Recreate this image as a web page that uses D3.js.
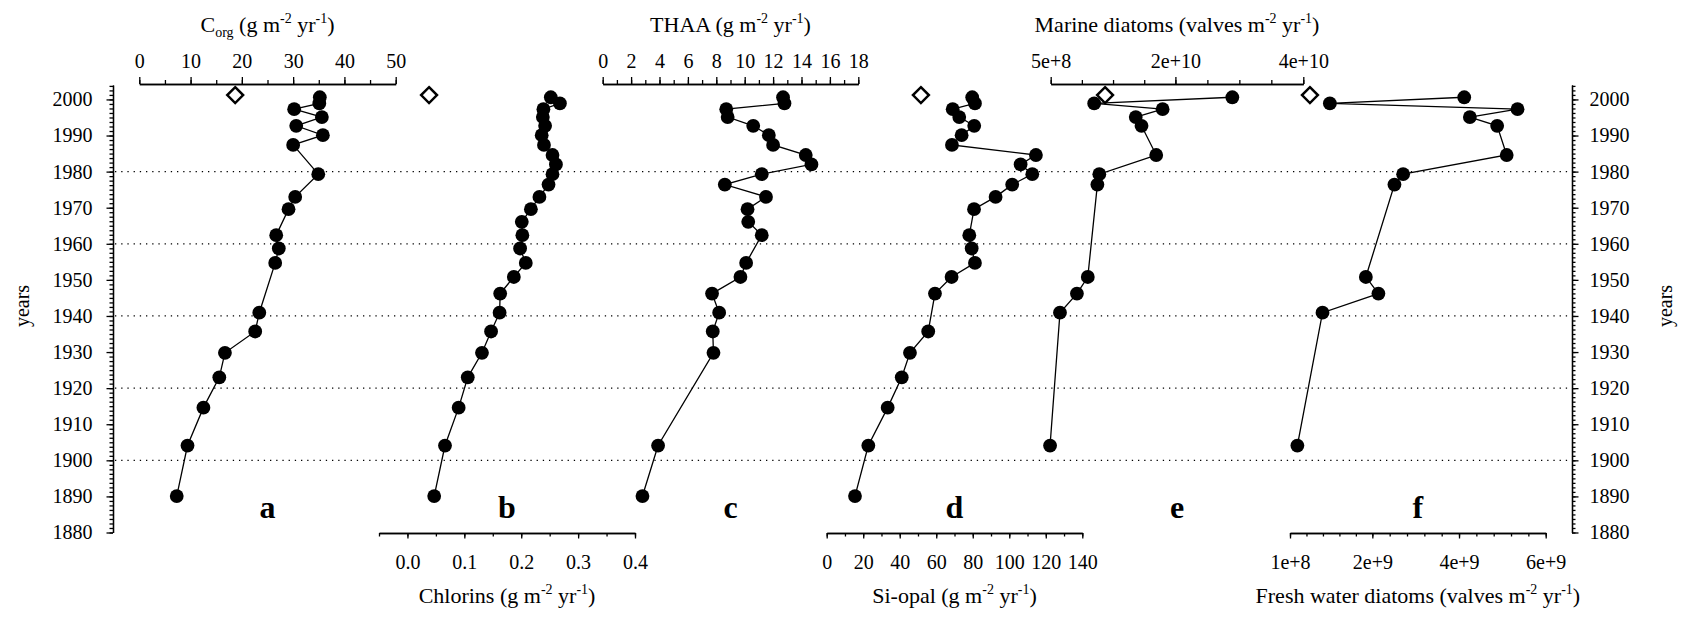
<!DOCTYPE html>
<html>
<head>
<meta charset="utf-8">
<script src="https://cdn.jsdelivr.net/npm/d3@7"></script>
<style>
  body { margin: 0; background: #fff; }
  .axis path, .axis line { stroke: #000; stroke-width: 1.3; }
</style>
</head>
<body>
<div id="chart"></div>
<script>
// sample years (shared by all cores, null = not measured)
const years = [2000.6, 1998.9, 1997.3, 1995.1, 1992.7, 1990.1, 1987.4, 1984.6, 1982.0, 1979.3,
  1976.4, 1973.0, 1969.6, 1966.1, 1962.4, 1958.7, 1954.7, 1950.8, 1946.2, 1940.9,
  1935.7, 1929.8, 1923.0, 1914.6, 1904.1, 1890.1];

const corg = [35.2, 35.1, 30.2, 35.6, 30.6, 35.8, 30.0, null, null, 34.9,
  null, 30.4, 29.1, null, 26.7, 27.2, 26.5, null, null, 23.4,
  22.6, 16.7, 15.6, 12.5, 9.4, 7.3];
const chlorins = [0.252, 0.268, 0.239, 0.238, 0.242, 0.236, 0.240, 0.255, 0.261, 0.255,
  0.248, 0.232, 0.217, 0.201, 0.202, 0.198, 0.208, 0.187, 0.163, 0.162,
  0.147, 0.131, 0.106, 0.090, 0.066, 0.047];
const thaa = [12.7, 12.8, 8.7, 8.8, 10.6, 11.7, 12.0, 14.3, 14.7, 11.2,
  8.6, 11.5, 10.2, 10.25, 11.2, null, 10.1, 9.7, 7.7, 8.2,
  7.75, 7.8, null, null, 3.9, 2.8];
const siOpal = [79.7, 81.2, 69.0, 72.6, 80.8, 73.9, 68.6, 114.6, 106.2, 112.6,
  101.6, 92.5, 80.7, null, 78.1, 79.4, 81.2, 68.4, 59.3, null,
  55.6, 45.6, 41.1, 33.4, 22.8, 15.5];
const marine = [2.89e10, 0.73e10, 1.80e10, 1.38e10, 1.47e10, null, null, 1.70e10, null, 0.81e10,
  0.78e10, null, null, null, null, null, null, 0.63e10, 0.46e10, 0.195e10,
  null, null, null, null, 0.04e10, null];
const fresh = [4.12e9, 1.02e9, 5.35e9, 4.25e9, 4.88e9, null, null, 5.10e9, null, 2.71e9,
  2.51e9, null, null, null, null, null, null, 1.85e9, 2.14e9, 0.85e9,
  null, null, null, null, 0.27e9, null];

// open diamonds (recent surface value)
const diamondYear = 2001.2;
const diamondValues = [18.7, 0.038, null, 51.6, 0.90e10, 0.56e9];

// axis ticks
const corgTicks = [0, 10, 20, 30, 40, 50];
const chlTicks = [0, 0.1, 0.2, 0.3, 0.4];
const thaaTicks = [0, 2, 4, 6, 8, 10, 12, 14, 16, 18];
const siTicks = [0, 20, 40, 60, 80, 100, 120, 140];
const marineTicks = [5e8, 2e10, 4e10];
const marineLabels = ['5e+8', '2e+10', '4e+10'];
const freshTicks = [1e8, 2e9, 4e9, 6e9];
const freshLabels = ['1e+8', '2e+9', '4e+9', '6e+9'];
const yearTicks = [1880, 1890, 1900, 1910, 1920, 1930, 1940, 1950, 1960, 1970, 1980, 1990, 2000];
const gridYears = [1900, 1920, 1940, 1960, 1980];

const w = 1690, h = 618;
const axisL = 113, axisR = 1572;
const topY = 84, botY = 533;
const serif = '"Liberation Serif", "Times New Roman", serif';

// split each major interval into n parts
function splitTicks(majors, n) {
  const out = [];
  for (let i = 0; i < majors.length - 1; i++) {
    const st = (majors[i + 1] - majors[i]) / n;
    for (let k = 0; k < n; k++) out.push(majors[i] + k * st);
  }
  out.push(majors[majors.length - 1]);
  return out;
}

const unit = [[' (g m', ''], ['-2', 'sup'], [' yr', ''], ['-1', 'sup'], [')', '']];
const valves = [[' (valves m', ''], ['-2', 'sup'], [' yr', ''], ['-1', 'sup'], [')', '']];

const panels = [
  { letter: 'a', vals: corg, side: 'top', domain: [0, 50], range: [139.3, 395.7],
    ticks: corgTicks, fmt: d3.format('d'), minor: d3.range(0, 50.01, 5),
    title: [['C', ''], ['org', 'sub']].concat(unit) },
  { letter: 'b', vals: chlorins, side: 'bottom', domain: [-0.05, 0.4], range: [379, 635],
    ticks: chlTicks, fmt: d3.format('.1f'), minor: d3.range(-0.05, 0.401, 0.05),
    title: [['Chlorins', '']].concat(unit) },
  { letter: 'c', vals: thaa, side: 'top', domain: [0, 18], range: [602.7, 858.3],
    ticks: thaaTicks, fmt: d3.format('d'), minor: d3.range(0, 18.01, 1),
    title: [['THAA', '']].concat(unit) },
  { letter: 'd', vals: siOpal, side: 'bottom', domain: [0, 140], range: [826.7, 1082.3],
    ticks: siTicks, fmt: d3.format('d'), minor: d3.range(0, 140.1, 10),
    title: [['Si-opal', '']].concat(unit) },
  { letter: 'e', vals: marine, side: 'top', domain: [5e8, 4e10], range: [1050.7, 1303.3],
    ticks: marineTicks, fmt: (d, i) => marineLabels[i], minor: splitTicks(marineTicks, 4),
    title: [['Marine diatoms', '']].concat(valves) },
  { letter: 'f', vals: fresh, side: 'bottom', domain: [1e8, 6e9], range: [1290, 1545.7],
    ticks: freshTicks, fmt: (d, i) => freshLabels[i], minor: splitTicks(freshTicks, 5),
    title: [['Fresh water diatoms', '']].concat(valves) }
];

const svg = d3.select('#chart').append('svg')
  .attr('width', w).attr('height', h);

const y = d3.scaleLinear().domain([1880, 2004]).range([532.5, 85]);

// dotted year grid
svg.append('g').selectAll('line')
  .data(gridYears).enter().append('line')
  .attr('x1', axisL + 2).attr('x2', axisR - 1)
  .attr('y1', d => y(d)).attr('y2', d => y(d))
  .attr('stroke', '#000').attr('stroke-width', 1.3)
  .attr('stroke-dasharray', '1.3,4.9');

function styleTicks(g) {
  g.attr('font-family', serif);
  g.selectAll('text')
    .style('font-family', serif).style('font-size', '20px').style('fill', '#000');
}

// year axes, left and right
function yearAxis(x, dir) {
  const make = dir === 'left' ? d3.axisLeft : d3.axisRight;
  svg.append('g').attr('class', 'axis').attr('transform', `translate(${x},0)`)
    .call(make(y).tickValues(d3.range(1880, 2004.1, 1.25)).tickSize(3.5).tickFormat('').tickSizeOuter(0));
  const g = svg.append('g').attr('class', 'axis').attr('transform', `translate(${x},0)`)
    .call(make(y).tickValues(yearTicks).tickSize(6.5).tickSizeOuter(0)
      .tickPadding(dir === 'left' ? 14 : 11).tickFormat(d3.format('d')));
  styleTicks(g);
}
yearAxis(axisL, 'left');
yearAxis(axisR, 'right');

[29, 1672].forEach(tx => {
  svg.append('text').attr('transform', `translate(${tx},306) rotate(-90)`)
    .attr('text-anchor', 'middle')
    .style('font-family', serif).style('font-size', '20px')
    .text('years');
});

function drawTitle(x, yBase, parts) {
  const t = svg.append('text').attr('x', x).attr('y', yBase)
    .attr('text-anchor', 'middle')
    .style('font-family', serif).style('font-size', '22px');
  let shift = 0;
  parts.forEach(([s, kind]) => {
    const target = kind === 'sup' ? -9 : kind === 'sub' ? 5 : 0;
    t.append('tspan')
      .attr('dy', target - shift)
      .style('font-size', kind ? '14px' : '22px')
      .text(s);
    shift = target;
  });
}

const line = d3.line();

panels.forEach((p, i) => {
  const x = d3.scaleLinear().domain(p.domain).range(p.range);
  const top = p.side === 'top';
  const make = top ? d3.axisTop : d3.axisBottom;
  const ay = top ? topY : botY;

  svg.append('g').attr('class', 'axis').attr('transform', `translate(0,${ay})`)
    .call(make(x).tickValues(p.minor).tickSize(top ? 4 : 3.5).tickFormat('').tickSizeOuter(0));
  const ax = svg.append('g').attr('class', 'axis').attr('transform', `translate(0,${ay})`)
    .call(make(x).tickValues(p.ticks).tickSize(top ? 7 : 5.5).tickSizeOuter(0)
      .tickPadding(top ? 9 : 16).tickFormat(p.fmt));
  styleTicks(ax);

  const cx = (p.range[0] + p.range[1]) / 2;
  drawTitle(cx, top ? 32 : 603, p.title);

  svg.append('text').attr('x', cx).attr('y', 518)
    .attr('text-anchor', 'middle')
    .style('font-family', serif)
    .style('font-size', '32px').style('font-weight', 'bold')
    .text(p.letter);

  const pts = years.map((yr, k) => ({ yr, v: p.vals[k] })).filter(d => d.v !== null);

  svg.append('path')
    .attr('d', line(pts.map(d => [x(d.v), y(d.yr)])))
    .attr('fill', 'none').attr('stroke', '#000').attr('stroke-width', 1.3);

  svg.append('g').selectAll('circle')
    .data(pts).enter().append('circle')
    .attr('cx', d => x(d.v)).attr('cy', d => y(d.yr))
    .attr('r', 6.9).attr('fill', '#000');

  const dv = diamondValues[i];
  if (dv !== null) {
    svg.append('path')
      .attr('transform', `translate(${x(dv)},${y(diamondYear)})`)
      .attr('d', d3.symbol(d3.symbolDiamond2, 160)())
      .attr('fill', '#fff').attr('stroke', '#000').attr('stroke-width', 2.5);
  }
});
</script>
</body>
</html>
